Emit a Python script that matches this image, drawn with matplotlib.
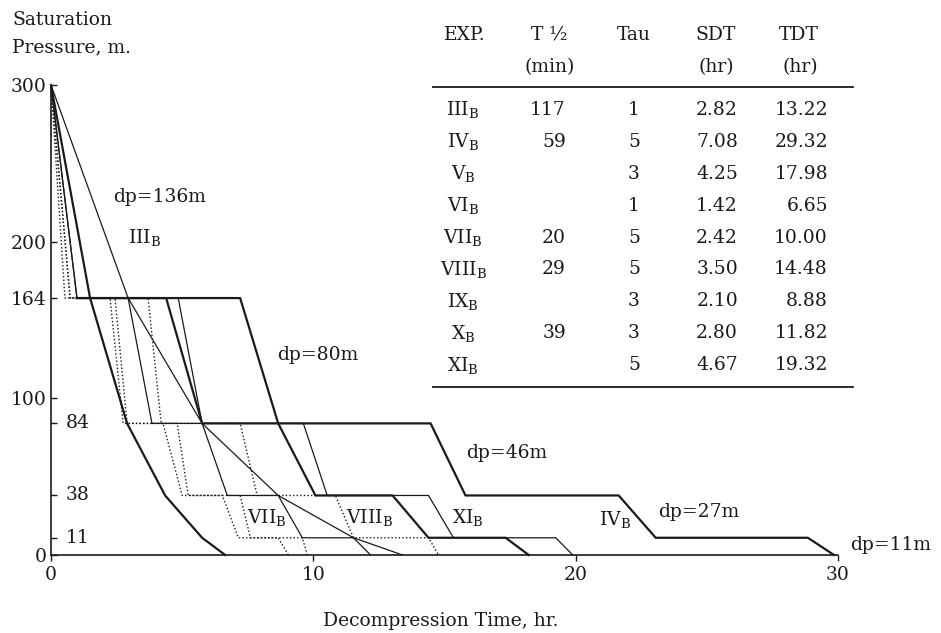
import matplotlib
matplotlib.use('Agg')
import matplotlib.pyplot as plt
from matplotlib.lines import Line2D

plt.rcParams['font.family'] = 'DejaVu Serif'
plt.rcParams['mathtext.fontset'] = 'dejavuserif'
ink = '#1a1a1a'

# pressure levels (m) visited by every schedule
step_p = [300, 164, 164, 84, 84, 38, 38, 11, 11, 0]   # stage + hold schedules
curve_p = [300, 164, 84, 38, 11, 0]                   # tau = 1 schedules

# vertex times (hr)
IV_t = [0, 0.99, 7.21, 8.66, 14.47, 15.80, 21.64, 23.05, 28.85, 29.85]
V_t = [0, 0.99, 4.39, 5.76, 8.66, 10.08, 13.02, 14.39, 17.33, 18.21]
XI_t = [0, 0.99, 4.85, 5.76, 9.62, 10.53, 14.39, 15.34, 19.24, 19.89]
X_t = [0, 0.99, 2.94, 3.85, 5.76, 6.72, 8.66, 9.58, 11.53, 12.18]
VIII_t = [0, 0.73, 3.70, 4.20, 7.21, 7.86, 10.84, 11.53, 14.39, 14.77]
VII_t = [0, 0.73, 2.44, 2.90, 4.81, 5.23, 7.21, 7.60, 9.58, 9.77]
IX_t = [0, 0.53, 2.25, 2.75, 4.27, 5.00, 6.53, 7.14, 8.66, 9.05]
III_t = [0, 2.94, 5.76, 8.66, 11.53, 13.40]
VI_t = [0, 1.49, 2.90, 4.35, 5.76, 6.64]

# table
exp_names = ['III', 'IV', 'V', 'VI', 'VII', 'VIII', 'IX', 'X', 'XI']
t_half = ['117', '59', '', '', '20', '29', '', '39', '']
tau = ['1', '5', '3', '1', '5', '5', '3', '3', '5']
sdt = ['2.82', '7.08', '4.25', '1.42', '2.42', '3.50', '2.10', '2.80', '4.67']
tdt = ['13.22', '29.32', '17.98', '6.65', '10.00', '14.48', '8.88', '11.82', '19.32']

W, H = 941, 633
fig = plt.figure(figsize=(W / 100, H / 100), dpi=100)
ax = fig.add_axes([51 / W, 78 / H, 787 / W, 470 / H])
ax.set_xlim(0, 30)
ax.set_ylim(0, 300)
for s in ['top', 'right']:
    ax.spines[s].set_visible(False)
for s in ['left', 'bottom']:
    ax.spines[s].set_linewidth(1.2)
    ax.spines[s].set_color(ink)

fs = 13.5

# dotted schedules first so the solid ones sit on top
for t in [IX_t, VII_t, VIII_t]:
    ax.plot(t, step_p, color=ink, lw=1.0, ls=(0, (1, 1.6)), clip_on=False)
for t in [X_t, XI_t]:
    ax.plot(t, step_p, color=ink, lw=0.9, clip_on=False)
ax.plot(III_t, curve_p, color=ink, lw=0.9, clip_on=False)
# thick schedules share the thin first descent with X and XI
for t in [V_t, IV_t]:
    ax.plot(t[1:], step_p[1:], color=ink, lw=1.6, clip_on=False)
ax.plot(VI_t, curve_p, color=ink, lw=1.6, clip_on=False)

ax.set_xticks([0, 10, 20, 30])
ax.tick_params(axis='x', direction='out', length=4, width=1, pad=4,
               labelsize=fs, colors=ink)
ax.set_yticks([0, 100, 164, 200, 300])
ax.set_yticks([11, 38, 84], minor=True)
ax.tick_params(axis='y', which='both', direction='in', length=4, width=1,
               pad=3, labelsize=fs, colors=ink)
for v in [84, 38, 11]:
    ax.text(0.55, v, str(v), ha='left', va='center', fontsize=fs, color=ink)


def ftext(px, py, s, ha='center', **kw):
    fig.text(px / W, 1 - py / H, s, ha=ha, va='center', fontsize=fs,
             color=ink, **kw)


def sub(name):
    return name + r'$_{\mathrm{B}}$'


ftext(12, 20, 'Saturation', ha='left')
ftext(12, 47, 'Pressure, m.', ha='left')
ftext(441, 621, 'Decompression Time, hr.')

ftext(160, 197, 'dp=136m')
ftext(145, 238, sub('III'))
ftext(318, 355, 'dp=80m')
ftext(507, 453, 'dp=46m')
ftext(699, 512, 'dp=27m')
ftext(891, 545, 'dp=11m')
ftext(267, 518, sub('VII'))
ftext(369, 518, sub('VIII'))
ftext(468, 518, sub('XI'))
ftext(615, 519, sub('IV'))

# table
ftext(465, 35, 'EXP.')
ftext(549, 35, 'T ½')
ftext(550, 67, '(min)')
ftext(634, 35, 'Tau')
ftext(716, 35, 'SDT')
ftext(716, 67, '(hr)')
ftext(799, 35, 'TDT')
ftext(800, 67, '(hr)')
for y in [87, 387]:
    fig.add_artist(Line2D([433 / W, 853 / W], [1 - y / H, 1 - y / H],
                          lw=1.3, color=ink))
for i in range(len(exp_names)):
    py = 110 + i * 31.9
    ftext(463, py, sub(exp_names[i]))
    ftext(566, py, t_half[i], ha='right')
    ftext(634, py, tau[i])
    ftext(738, py, sdt[i], ha='right')
    ftext(828, py, tdt[i], ha='right')

fig.savefig('out.png', dpi=100, facecolor='white')
